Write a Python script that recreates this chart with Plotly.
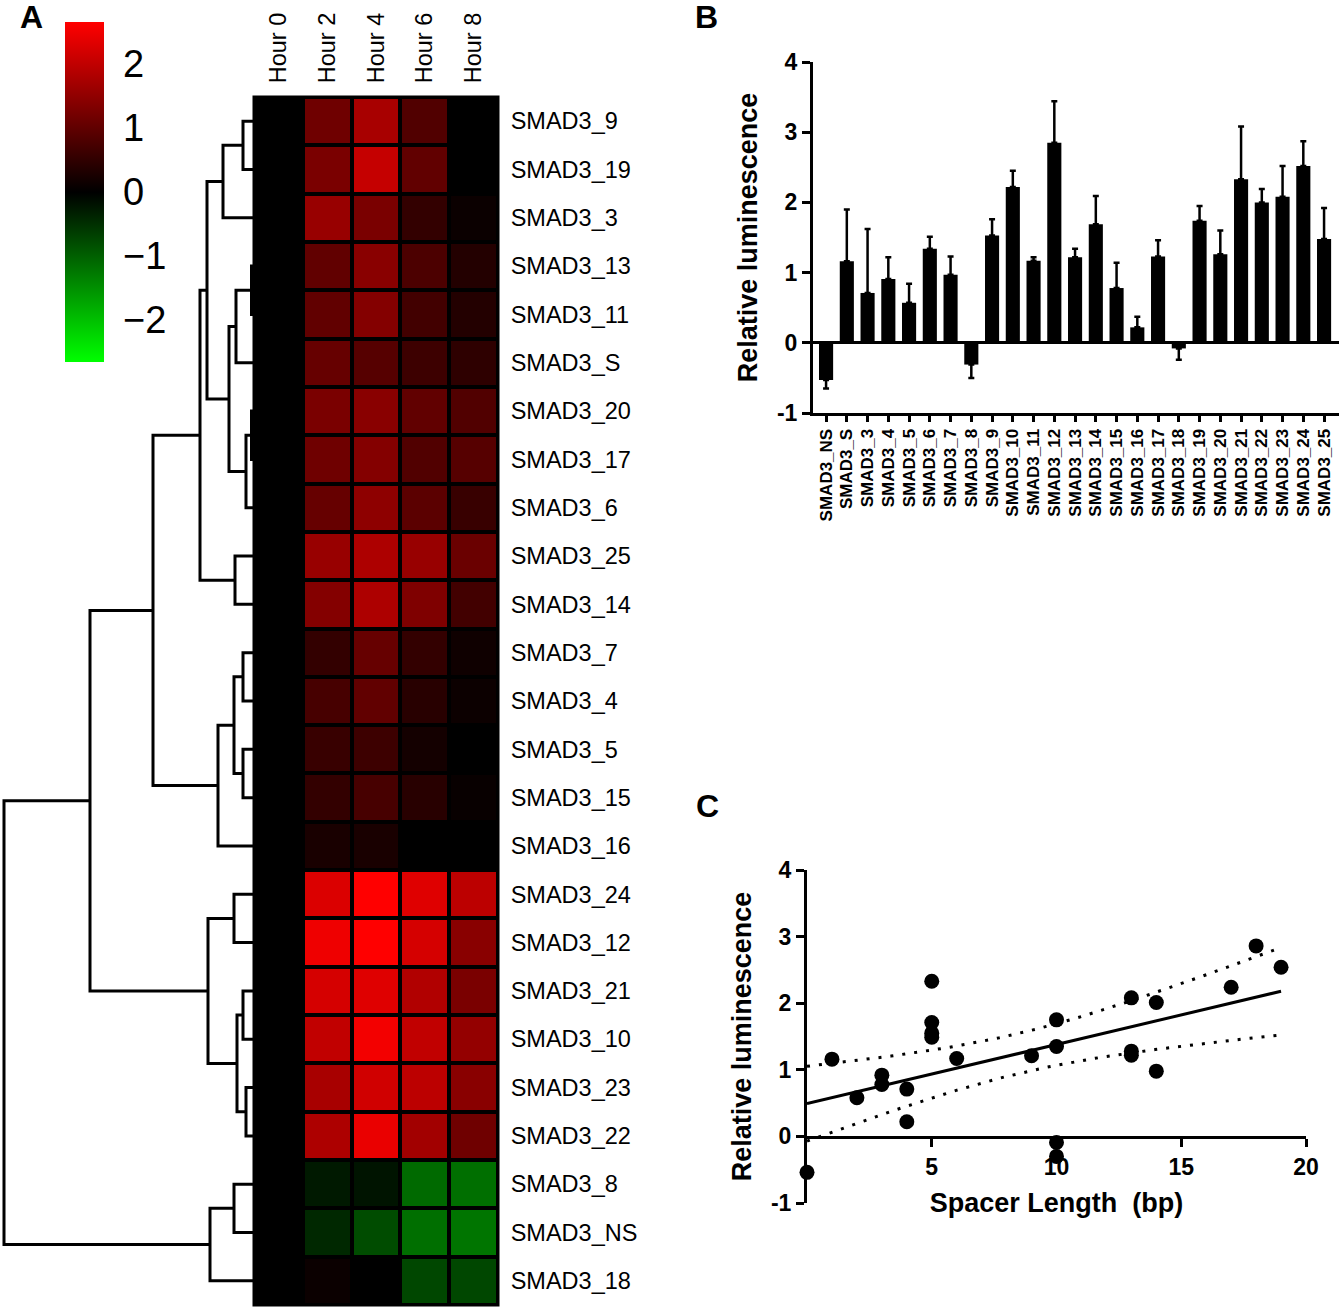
import numpy as np
import plotly.graph_objects as go

W, H = 1343, 1309
FONT = "Liberation Sans, Arial, sans-serif"

# ---------------- data ----------------
hours = ["Hour 0", "Hour 2", "Hour 4", "Hour 6", "Hour 8"]
leaves = ["SMAD3_9", "SMAD3_19", "SMAD3_3", "SMAD3_13", "SMAD3_11", "SMAD3_S", "SMAD3_20",
          "SMAD3_17", "SMAD3_6", "SMAD3_25", "SMAD3_14", "SMAD3_7", "SMAD3_4", "SMAD3_5",
          "SMAD3_15", "SMAD3_16", "SMAD3_24", "SMAD3_12", "SMAD3_21", "SMAD3_10", "SMAD3_23",
          "SMAD3_22", "SMAD3_8", "SMAD3_NS", "SMAD3_18"]
hour0 = [0.0] * 25
hour2 = [1.16, 1.27, 1.59, 1.01, 1.01, 1.06, 1.27, 1.16, 1.06, 1.59, 1.38, 0.53, 0.74, 0.58,
         0.53, 0.26, 2.28, 2.49, 2.22, 2.01, 1.75, 1.80, -0.26, -0.42, 0.11]
hour4 = [1.75, 2.06, 1.27, 1.43, 1.38, 0.90, 1.43, 1.38, 1.48, 1.80, 1.80, 1.06, 1.01, 0.64,
         0.74, 0.26, 2.70, 2.70, 2.33, 2.54, 2.17, 2.44, -0.21, -0.79, 0.0]
hour6 = [0.85, 1.01, 0.53, 0.79, 0.69, 0.64, 1.01, 0.85, 0.95, 1.59, 1.32, 0.53, 0.42, 0.21,
         0.42, 0.0, 2.33, 2.22, 1.85, 2.01, 1.96, 1.69, -1.11, -1.16, -0.74]
hour8 = [0.0, 0.0, 0.11, 0.37, 0.37, 0.48, 0.85, 0.90, 0.58, 1.11, 0.69, 0.16, 0.13, 0.0,
         0.08, 0.0, 1.96, 1.43, 1.27, 1.54, 1.43, 1.16, -1.16, -1.22, -0.74]

# dendrogram linkage: (left, right, height); "#k" refers to merge k
linkage = [
    ("SMAD3_9", "SMAD3_19", 11), ("#0", "SMAD3_3", 31),
    ("SMAD3_13", "SMAD3_11", 2.5), ("#2", "SMAD3_S", 18),
    ("SMAD3_20", "SMAD3_17", 2.5), ("#4", "SMAD3_6", 8),
    ("#3", "#5", 25), ("#1", "#6", 47),
    ("SMAD3_25", "SMAD3_14", 19), ("#7", "#8", 54),
    ("SMAD3_7", "SMAD3_4", 11), ("SMAD3_5", "SMAD3_15", 11),
    ("#10", "#11", 20), ("#12", "SMAD3_16", 36),
    ("#9", "#13", 101),
    ("SMAD3_24", "SMAD3_12", 20), ("SMAD3_21", "SMAD3_10", 11),
    ("SMAD3_23", "SMAD3_22", 8), ("#16", "#17", 17), ("#15", "#18", 46),
    ("#14", "#19", 164),
    ("SMAD3_8", "SMAD3_NS", 20), ("#21", "SMAD3_18", 44),
    ("#20", "#22", 250),
]

bar_labels = ["SMAD3_NS", "SMAD3_S"] + [f"SMAD3_{i}" for i in range(3, 26)]
bar_values = [-0.53, 1.16, 0.71, 0.91, 0.57, 1.34, 0.97, -0.31, 1.53, 2.22, 1.17, 2.85, 1.22,
              1.69, 0.78, 0.22, 1.23, -0.08, 1.74, 1.26, 2.33, 2.00, 2.08, 2.52, 1.48]
bar_errors = [0.12, 0.74, 0.91, 0.31, 0.27, 0.17, 0.26, 0.19, 0.23, 0.23, 0.05, 0.59, 0.12,
              0.40, 0.36, 0.15, 0.23, 0.16, 0.21, 0.34, 0.75, 0.19, 0.44, 0.35, 0.44]

spacer = [0, 1, 2, 3, 3, 4, 4, 5, 5, 5, 5, 6, 9, 10, 10, 10, 10, 13, 13, 13, 14, 14, 17, 18, 19]
lum = [-0.54, 1.16, 0.58, 0.92, 0.78, 0.71, 0.22, 2.33, 1.71, 1.55, 1.49, 1.17, 1.21, 1.75,
       1.35, -0.09, -0.30, 2.08, 1.28, 1.22, 2.01, 0.98, 2.24, 2.86, 2.54]


def fx(px):
    return px / W


def fy(py):
    return 1 - py / H


fig = go.Figure()

# ---------------- heatmap ----------------
z = np.column_stack([hour0, hour2, hour4, hour6, hour8])
fig.add_trace(go.Heatmap(
    z=z, x=list(range(5)), y=list(range(25)), xaxis="x", yaxis="y",
    zmin=-2.66, zmax=2.66,
    colorscale=[[0, "rgb(0,255,0)"], [0.5, "rgb(0,0,0)"], [1, "rgb(255,0,0)"]],
    xgap=4, ygap=4, hoverinfo="skip",
    colorbar=dict(thickness=39, thicknessmode="pixels", len=340, lenmode="pixels",
                  x=fx(65), xanchor="left", y=fy(22), yanchor="top", xpad=0, ypad=0,
                  outlinewidth=0, tickvals=[-2, -1, 0, 1, 2], ticks="outside", ticklen=12,
                  tickcolor="rgba(0,0,0,0)",
                  tickfont=dict(family=FONT, size=38, color="black")),
))

# ---------------- dendrogram ----------------
pos = {name: (i, 0.0) for i, name in enumerate(leaves)}
dx, dy = [], []
for k, (a, b, h) in enumerate(linkage):
    ya, ha = pos[a]
    yb, hb = pos[b]
    dx += [ha, h, h, hb, None]
    dy += [ya, ya, yb, yb, None]
    pos[f"#{k}"] = ((ya + yb) / 2, h)
fig.add_trace(go.Scatter(x=dx, y=dy, mode="lines", xaxis="x4", yaxis="y4",
                         line=dict(color="black", width=3), hoverinfo="skip",
                         showlegend=False))

# ---------------- bar chart ----------------
err_plus = [e if v >= 0 else 0 for v, e in zip(bar_values, bar_errors)]
err_minus = [e if v < 0 else 0 for v, e in zip(bar_values, bar_errors)]
fig.add_trace(go.Bar(
    x=list(range(len(bar_labels))), y=bar_values, xaxis="x2", yaxis="y2",
    marker=dict(color="black", line=dict(width=0)), width=0.68,
    error_y=dict(type="data", array=err_plus, arrayminus=err_minus, symmetric=False,
                 color="black", thickness=2.5, width=3),
    showlegend=False, hoverinfo="skip",
))

# ---------------- scatter + regression ----------------
xs = np.array(spacer, dtype=float)
ys = np.array(lum, dtype=float)
n = len(xs)
slope, intercept = np.polyfit(xs, ys, 1)
resid = ys - (slope * xs + intercept)
s = np.sqrt(np.sum(resid ** 2) / (n - 2))
sxx = np.sum((xs - xs.mean()) ** 2)
t_crit = 2.069  # t(0.975, df=23)
xf = np.linspace(0, xs.max(), 80)
yf = slope * xf + intercept
se = s * np.sqrt(1 / n + (xf - xs.mean()) ** 2 / sxx)

fig.add_trace(go.Scatter(x=xf, y=yf + t_crit * se, mode="lines", xaxis="x3", yaxis="y3",
                         line=dict(color="black", width=3, dash="3px,9px"),
                         showlegend=False, hoverinfo="skip"))
fig.add_trace(go.Scatter(x=xf, y=yf - t_crit * se, mode="lines", xaxis="x3", yaxis="y3",
                         line=dict(color="black", width=3, dash="3px,9px"),
                         showlegend=False, hoverinfo="skip"))
fig.add_trace(go.Scatter(x=xf, y=yf, mode="lines", xaxis="x3", yaxis="y3",
                         line=dict(color="black", width=3),
                         showlegend=False, hoverinfo="skip"))
fig.add_trace(go.Scatter(x=spacer, y=lum, mode="markers", xaxis="x3", yaxis="y3",
                         marker=dict(color="black", size=15), cliponaxis=False,
                         showlegend=False, hoverinfo="skip"))

# ---------------- layout ----------------
bold_tick = dict(family=FONT, size=23, color="black", weight="bold")
title_font = dict(family=FONT, size=27, color="black", weight="bold")
panel_font = dict(family=FONT, size=32, color="black", weight="bold")

fig.update_layout(
    width=W, height=H, margin=dict(l=0, r=0, t=0, b=0, autoexpand=False),
    paper_bgcolor="white", plot_bgcolor="white", showlegend=False,
    font=dict(family=FONT, color="black"),
    # heatmap axes
    xaxis=dict(domain=[fx(254), fx(498)], range=[-0.5, 4.5], side="top", anchor="y",
               tickvals=list(range(5)), ticktext=hours, tickangle=-90, automargin=False,
               ticks="outside", ticklen=8, tickcolor="rgba(0,0,0,0)",
               tickfont=dict(family=FONT, size=23.5, color="black"),
               showgrid=False, zeroline=False, showline=False),
    yaxis=dict(domain=[fy(1305), fy(97)], range=[24.5, -0.5], side="right", anchor="x",
               tickvals=list(range(25)), ticktext=leaves, automargin=False,
               ticks="outside", ticklen=7, tickcolor="rgba(0,0,0,0)",
               tickfont=dict(family=FONT, size=23.5, color="black"),
               showgrid=False, zeroline=False, showline=False),
    # dendrogram axes
    xaxis4=dict(domain=[0, fx(254)], range=[254, 0], anchor="y4", visible=False),
    yaxis4=dict(domain=[fy(1305), fy(97)], range=[24.5, -0.5], anchor="x4", visible=False),
    # bar chart axes
    xaxis2=dict(domain=[fx(813), fx(1339)], range=[-0.63, 24.72], anchor="y2",
                tickvals=list(range(len(bar_labels))), ticktext=bar_labels, tickangle=-90,
                ticks="outside", ticklen=6, tickwidth=2.5, tickcolor="black", automargin=False,
                tickfont=dict(family=FONT, size=17, color="black", weight="bold"),
                showline=True, linewidth=3, linecolor="black",
                showgrid=False, zeroline=False),
    yaxis2=dict(domain=[fy(413), fy(62)], range=[-1, 4], anchor="x2", automargin=False,
                tickvals=[-1, 0, 1, 2, 3, 4], ticktext=["-1", "0", "1", "2", "3", "4"],
                ticks="outside", ticklen=8, tickwidth=3, tickcolor="black",
                tickfont=bold_tick, showline=True, linewidth=3, linecolor="black",
                showgrid=False, zeroline=True, zerolinewidth=3, zerolinecolor="black",
                title=dict(text="Relative luminescence", font=title_font, standoff=12)),
    # scatter axes
    xaxis3=dict(domain=[fx(807), fx(1306)], range=[0, 20], anchor="free", position=fy(1137),
                tickvals=[5, 10, 15, 20], ticks="outside", ticklen=8, tickwidth=3,
                tickcolor="black", tickfont=bold_tick, automargin=False,
                showline=True, linewidth=3, linecolor="black",
                showgrid=False, zeroline=False,
                title=dict(text="Spacer Length\u00a0 (bp)", font=title_font, standoff=14)),
    yaxis3=dict(domain=[fy(1203), fy(870)], range=[-1, 4], anchor="x3", automargin=False,
                tickvals=[-1, 0, 1, 2, 3, 4], ticktext=["-1", "0", "1", "2", "3", "4"],
                ticks="outside", ticklen=8, tickwidth=3, tickcolor="black",
                tickfont=bold_tick, showline=True, linewidth=3, linecolor="black",
                showgrid=False, zeroline=False,
                title=dict(text="Relative luminescence", font=title_font, standoff=12)),
    shapes=[dict(type="rect", xref="x domain", yref="y domain", x0=0, x1=1, y0=0, y1=1,
                 fillcolor="black", line=dict(color="black", width=3), layer="below")],
    annotations=[
        dict(text="A", x=fx(31), y=fy(17), xref="paper", yref="paper", showarrow=False,
             xanchor="center", yanchor="middle", font=panel_font),
        dict(text="B", x=fx(706), y=fy(17), xref="paper", yref="paper", showarrow=False,
             xanchor="center", yanchor="middle", font=panel_font),
        dict(text="C", x=fx(707), y=fy(806), xref="paper", yref="paper", showarrow=False,
             xanchor="center", yanchor="middle", font=panel_font),
    ],
)

fig.write_html("out.html", config={"displayModeBar": False},
               post_script="document.body.style.margin='0px';")
